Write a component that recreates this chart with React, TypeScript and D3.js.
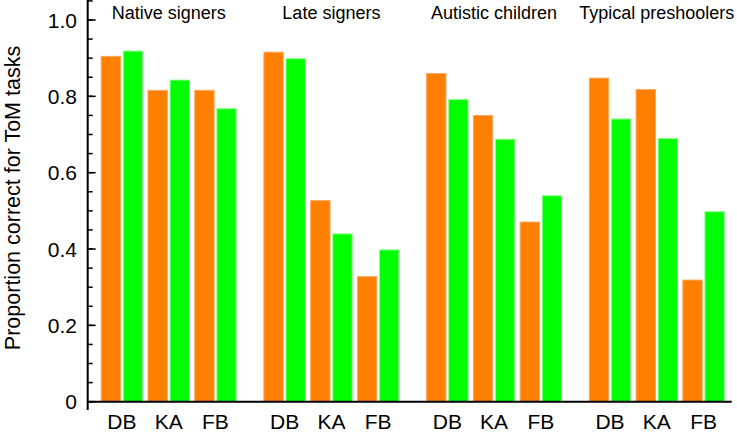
import React from "react";
import * as d3 from "d3";

const groups = ["Native signers", "Late signers", "Autistic children", "Typical preshoolers"];
const tasks = ["DB", "KA", "FB"];
const series = ["orange", "green"];
// values[group][task] = [orange, green]
const orangeValues = [
  [0.906, 0.817, 0.817],
  [0.917, 0.528, 0.329],
  [0.861, 0.751, 0.472],
  [0.849, 0.819, 0.320],
];
const greenValues = [
  [0.920, 0.844, 0.769],
  [0.900, 0.441, 0.399],
  [0.793, 0.689, 0.541],
  [0.742, 0.691, 0.499],
];
const majorTicks = [0, 0.2, 0.4, 0.6, 0.8, 1.0];
const minorTicks = d3.range(0, 22).map((i) => i * 0.05);

const W = 737;
const H = 434;
const font = "'Liberation Sans', Arial, Helvetica, sans-serif";

export default function App() {
  const y = d3.scaleLinear().domain([0, 1]).range([401.7, 20]);
  const xGroup = d3.scaleBand<string>().domain(groups).range([100.7, 724.8]).paddingInner(0.164).paddingOuter(0);
  const xTask = d3.scaleBand<string>().domain(tasks).range([0, xGroup.bandwidth()]).paddingInner(0.092).paddingOuter(0);
  const xSeries = d3.scaleBand<string>().domain(series).range([0, xTask.bandwidth()]).paddingInner(0.077).paddingOuter(0);
  const axisX = 87.7;
  const colors: Record<string, string> = { orange: "#ff7f00", green: "#00ff00" };
  const strokes: Record<string, string> = { orange: "#ffa860", green: "#90ff90" };

  const bars: JSX.Element[] = [];
  groups.forEach((g, gi) => {
    tasks.forEach((t, ti) => {
      series.forEach((s) => {
        const v = s === "orange" ? orangeValues[gi][ti] : greenValues[gi][ti];
        const x0 = (xGroup(g) as number) + (xTask(t) as number) + (xSeries(s) as number);
        bars.push(
          <rect
            key={`${g}-${t}-${s}`}
            x={x0 + 0.5}
            y={y(v) + 0.5}
            width={xSeries.bandwidth() - 1}
            height={y(0) - y(v) - 0.5}
            fill={colors[s]}
            stroke={strokes[s]}
            strokeWidth={1}
          />
        );
      });
    });
  });

  return (
    <svg
      width={W}
      height={H}
      style={{ position: "absolute", left: 0, top: 0, background: "#fff" }}
      fontFamily={font}
    >
      {bars}
      {/* y axis */}
      <line x1={axisX} x2={axisX} y1={0} y2={410} stroke="#000" strokeWidth={2} />
      {minorTicks.map((t) => (
        <line key={`mt${t}`} x1={axisX} x2={axisX + 5} y1={y(t)} y2={y(t)} stroke="#000" strokeWidth={1.5} />
      ))}
      {majorTicks.map((t) => (
        <g key={`Mt${t}`}>
          <line x1={axisX} x2={axisX + 8} y1={y(t)} y2={y(t)} stroke="#000" strokeWidth={1.5} />
          <text x={77} y={y(t)} dy="0.36em" textAnchor="end" fontSize={21} fill="#000">
            {t === 0 ? "0" : d3.format(".1f")(t)}
          </text>
        </g>
      ))}
      {/* x axis */}
      <line x1={axisX} x2={731.7} y1={y(0)} y2={y(0)} stroke="#000" strokeWidth={2} />
      {groups.map((g) =>
        tasks.map((t) => (
          <text
            key={`xl${g}${t}`}
            x={(xGroup(g) as number) + (xTask(t) as number) + xTask.bandwidth() / 2}
            y={429}
            textAnchor="middle"
            fontSize={21}
            fill="#000"
          >
            {t}
          </text>
        ))
      )}
      {groups.map((g) => (
        <text
          key={`gl${g}`}
          x={(xGroup(g) as number) + xGroup.bandwidth() / 2}
          y={18.5}
          textAnchor="middle"
          fontSize={18}
          fill="#000"
        >
          {g}
        </text>
      ))}
      <text
        transform={`translate(20,198) rotate(-90)`}
        textAnchor="middle"
        fontSize={21.5}
        fill="#000"
      >
        Proportion correct for ToM tasks
      </text>
    </svg>
  );
}
